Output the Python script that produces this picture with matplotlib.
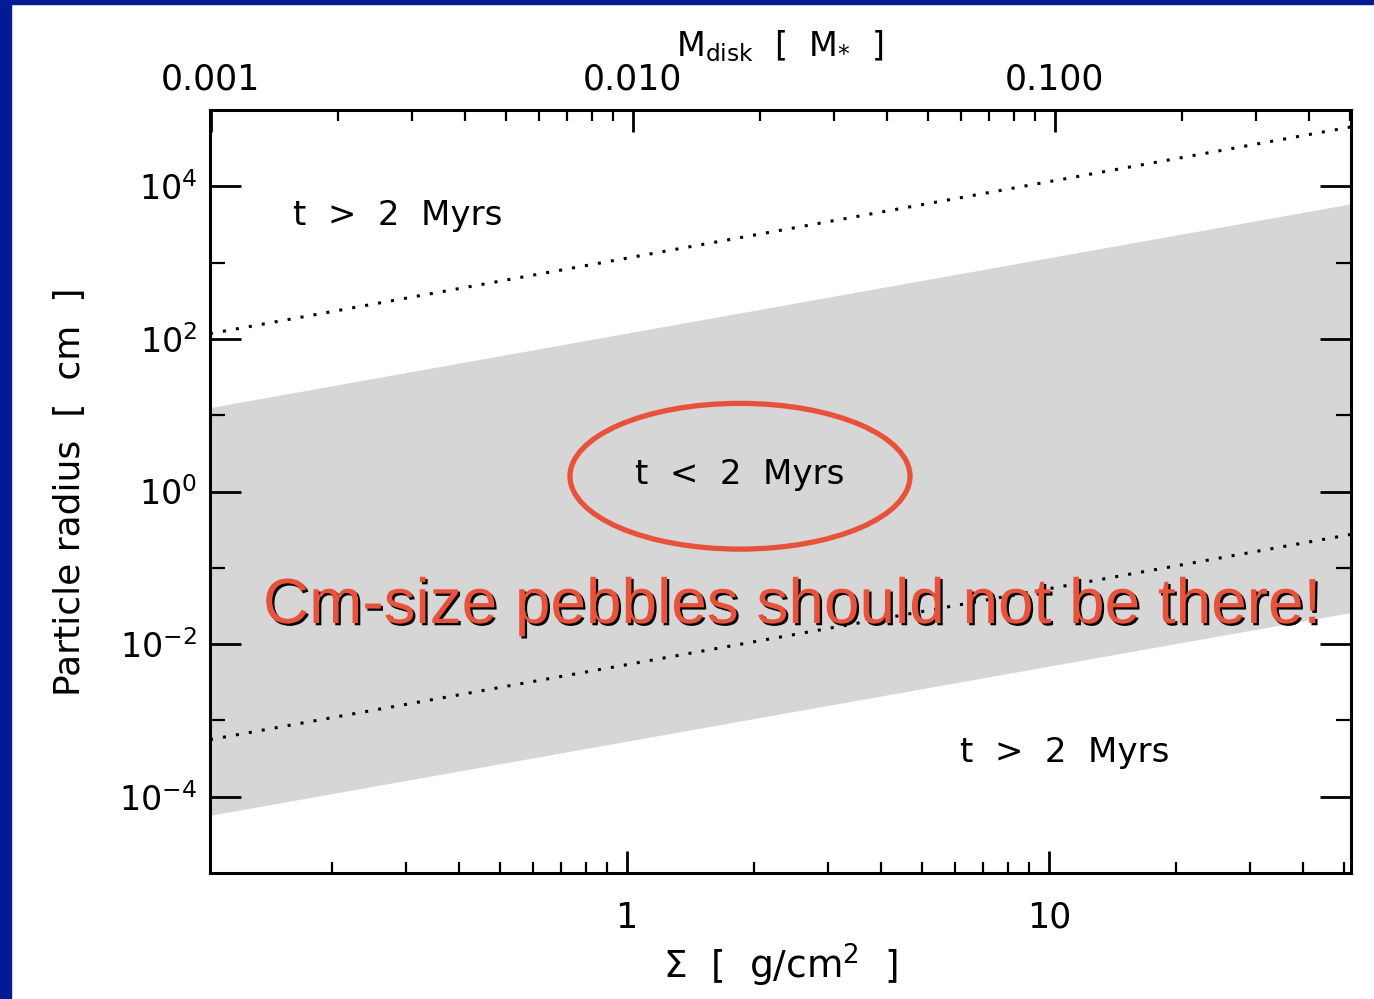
import matplotlib
matplotlib.use("Agg")
import matplotlib.pyplot as plt
import matplotlib.patheffects as pe
from matplotlib.patches import Ellipse, Rectangle
from matplotlib.ticker import LogLocator, NullFormatter

plt.rcParams['font.family'] = ['DejaVu Sans']
plt.rcParams['mathtext.fontset'] = 'custom'
plt.rcParams['mathtext.rm'] = 'DejaVu Sans'
plt.rcParams['mathtext.it'] = 'DejaVu Sans'

# data
sigma = [0.103, 52.0]                 # g/cm^2, x range of the lines
band_upper = [12.6, 5900.0]           # grey band, top edge (cm)
band_lower = [5.7e-5, 0.026]          # grey band, bottom edge (cm)
dotted_upper = [117.0, 6.0e4]
dotted_lower = [5.6e-4, 0.274]
MDISK_PER_SIGMA = 0.00968             # M_disk / M_star per g/cm^2

y_major = [1e-4, 1e-2, 1e0, 1e2, 1e4]
y_minor = [1e-3, 1e-1, 1e1, 1e3]
top_ticks = [0.001, 0.01, 0.1]
top_labels = ["0.001", "0.010", "0.100"]

RED = "#e8513a"
BLUE = "#021a96"

fig = plt.figure(figsize=(13.74, 9.99), dpi=100)
ax = fig.add_axes([210 / 1374, 126 / 999, 1141 / 1374, 763 / 999])

ax.fill_between(sigma, band_lower, band_upper, color="#d6d6d6", lw=0)
ax.plot(sigma, dotted_upper, color="black", lw=2.2, ls=(0, (1, 3.3)))
ax.plot(sigma, dotted_lower, color="black", lw=2.2, ls=(0, (1, 3.3)))

ax.set_xscale("log")
ax.set_yscale("log")
ax.set_xlim(sigma[0], sigma[1])
ax.set_ylim(1e-5, 1e5)

ax.set_xticks([1, 10], labels=["1", "10"])
ax.xaxis.set_minor_locator(LogLocator(subs=range(2, 10)))
ax.xaxis.set_minor_formatter(NullFormatter())
ax.set_yticks(y_major)
ax.set_yticks(y_minor, minor=True)
ax.yaxis.set_minor_formatter(NullFormatter())

ax.tick_params(axis="x", which="major", direction="in", length=16, width=2,
               labelsize=25, pad=20, top=False)
ax.tick_params(axis="x", which="minor", direction="in", length=8, width=1.6, top=False)
ax.tick_params(axis="y", which="major", direction="in", length=22, width=2,
               labelsize=24, pad=9, right=True)
ax.tick_params(axis="y", which="minor", direction="in", length=11, width=1.6, right=True)
for s in ax.spines.values():
    s.set_linewidth(2.2)

top = ax.secondary_xaxis("top", functions=(lambda s: s * MDISK_PER_SIGMA,
                                           lambda m: m / MDISK_PER_SIGMA))
top.set_xticks(top_ticks, labels=top_labels)
top.xaxis.set_minor_locator(LogLocator(subs=range(2, 10)))
top.xaxis.set_minor_formatter(NullFormatter())
top.tick_params(which="major", direction="in", length=16, width=2, labelsize=25, pad=10)
top.tick_params(which="minor", direction="in", length=8, width=1.6)

# axis titles
fig.text(780 / 1374, 1 - 965 / 999, r"$\Sigma$  [  g/cm$^2$  ]", fontsize=27,
         ha="center", va="center")
fig.text(70 / 1374, 1 - 492 / 999, "Particle radius  [  cm  ]", fontsize=26,
         ha="center", va="center", rotation=90)
fig.text(780 / 1374, 1 - 46 / 999, r"M$_{\mathrm{disk}}$  [  M$_{*}$  ]", fontsize=24,
         ha="center", va="center")

# region labels
ax.text(0.073, 0.8614, "t  >  2  Myrs", fontsize=24.5, transform=ax.transAxes,
        ha="left", va="center")
ax.text(0.657, 0.1573, "t  >  2  Myrs", fontsize=24.5, transform=ax.transAxes,
        ha="left", va="center")
ax.text(0.4645, 0.5225, "t  <  2  Myrs", fontsize=24.5, transform=ax.transAxes,
        ha="center", va="center")
ax.add_patch(Ellipse((0.4645, 0.520), 0.298, 0.191, transform=ax.transAxes,
                     fill=False, edgecolor=RED, lw=3.8))

ax.text(0.0464, 0.3276, "Cm-size pebbles should not be there!",
        fontsize=46, family="Liberation Sans", color=RED,
        transform=ax.transAxes, ha="left", va="baseline",
        path_effects=[pe.withSimplePatchShadow(offset=(1.6, -1.6),
                                               shadow_rgbFace="black", alpha=1)])

# blue slide frame
fig.patches.append(Rectangle((0, 0), 11 / 1374, 1, transform=fig.transFigure,
                             color=BLUE, zorder=10))
fig.patches.append(Rectangle((0, 1 - 4 / 999), 1, 4 / 999, transform=fig.transFigure,
                             color=BLUE, zorder=10))

fig.savefig("out.png", dpi=100)
